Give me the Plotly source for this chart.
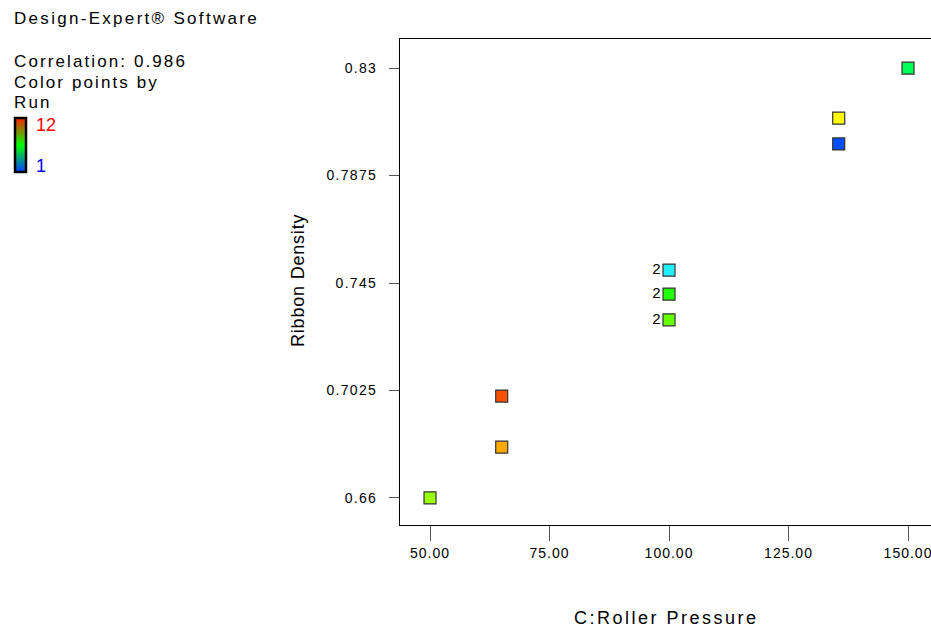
import plotly.graph_objects as go

# Data
roller_pressure = [50, 65, 65, 100, 100, 100, 135.5, 135.5, 150]
ribbon_density = [0.66, 0.7003, 0.6801, 0.7501, 0.7406, 0.7304, 0.8102, 0.8000, 0.83]
point_labels = ["", "", "", "2", "2", "2", "", "", ""]
point_colors = ["#99ff00", "#ff5000", "#ffaa00", "#22eeff", "#22ff00", "#66ff00",
                "#ffff00", "#0050ff", "#00ff55"]
y_tick_vals = [0.66, 0.7025, 0.745, 0.7875, 0.83]
y_tick_text = ["0.66", "0.7025", "0.745", "0.7875", "0.83"]
x_tick_vals = [50, 75, 100, 125, 150]
x_tick_text = ["50.00", "75.00", "100.00", "125.00", "150.00"]

FONT = "Liberation Sans, Arial, sans-serif"
W, H = 931, 629
L, R, T, B = 400, 0, 39, 629 - 525
PW = W - L - R
PH = H - T - B


def px(x):
    return (x - L) / PW


def py(y):
    return (H - B - y) / PH


def sp(text, ls):
    return '<span style="letter-spacing:%spx">%s</span>' % (ls, text)


fig = go.Figure()
fig.add_trace(go.Scatter(
    x=roller_pressure, y=ribbon_density,
    mode="markers+text",
    text=point_labels, textposition="middle left",
    textfont=dict(family=FONT, size=15, color="black"),
    marker=dict(symbol="square", size=12, color=point_colors,
                line=dict(color="#333333", width=1.2)),
    hoverinfo="x+y", showlegend=False,
))

# Colorbar (Run 1..12)
fig.add_trace(go.Scatter(
    x=[None], y=[None], mode="markers",
    marker=dict(color=[1, 12], cmin=1, cmax=12,
                colorscale=[[0, "#0040ff"], [0.5, "#00ff00"], [1, "#ff2000"]],
                showscale=True,
                colorbar=dict(x=px(15), xanchor="left", y=py(145), yanchor="middle",
                              len=54, lenmode="pixels", thickness=11,
                              thicknessmode="pixels",
                              outlinewidth=2.5, outlinecolor="black",
                              showticklabels=False, ticks="", xpad=0, ypad=0,
                              bgcolor="rgba(0,0,0,0)", borderwidth=0)),
    showlegend=False, hoverinfo="skip",
))

fig.update_layout(
    width=W, height=H,
    margin=dict(l=L, r=R, t=T, b=B),
    paper_bgcolor="white", plot_bgcolor="white",
    font=dict(family=FONT, size=14, color="black"),
    xaxis=dict(range=[43.72, 43.72 + PW / 4.78], tickvals=x_tick_vals,
               ticktext=[sp(t, 1) for t in x_tick_text],
               ticklabeloverflow="allow",
               ticks="outside", ticklen=15, tickcolor="#555555",
               tickwidth=1.2,
               showline=True, linecolor="black", linewidth=1.2, mirror=True,
               showgrid=False, zeroline=False,
               tickfont=dict(family=FONT, size=14)),
    yaxis=dict(range=[0.6493, 0.8415], tickvals=y_tick_vals,
               ticktext=[sp(t, 1.3) for t in y_tick_text],
               ticks="outside", ticklen=10, tickcolor="#555555", tickwidth=1.2,
               ticklabelstandoff=9,
               showline=True, linecolor="black", linewidth=1.2, mirror=False,
               showgrid=False, zeroline=False,
               tickfont=dict(family=FONT, size=14)),
)

annots = [
    dict(text=sp("Design-Expert® Software", 2.3), x=px(12), y=py(18), size=17, color="black"),
    dict(text=sp("Correlation: 0.986", 2.1), x=px(12), y=py(61), size=17, color="black"),
    dict(text=sp("Color points by", 2.1), x=px(12), y=py(82), size=17, color="black"),
    dict(text=sp("Run", 2.1), x=px(12), y=py(103), size=17, color="black"),
    dict(text="12", x=px(34), y=py(125), size=18, color="#ff0000"),
    dict(text="1", x=px(34), y=py(166), size=18, color="#0000ff"),
]
for a in annots:
    fig.add_annotation(text=a["text"], x=a["x"], y=a["y"], xref="paper", yref="paper",
                       xanchor="left", yanchor="middle", showarrow=False,
                       font=dict(family=FONT, size=a["size"], color=a["color"]))

fig.add_annotation(text=sp("C:Roller Pressure", 2.5), x=px(666), y=py(618), xref="paper",
                   yref="paper", xanchor="center", yanchor="middle", showarrow=False,
                   font=dict(family=FONT, size=18))
fig.add_annotation(text=sp("Ribbon Density", 0.8), x=px(298), y=py(281), xref="paper",
                   yref="paper", xanchor="center", yanchor="middle", showarrow=False,
                   textangle=-90, font=dict(family=FONT, size=18))

fig.write_html(
    "out.html",
    config={"displayModeBar": False},
    post_script="document.body.style.margin='0';document.body.style.overflow='hidden';",
)
